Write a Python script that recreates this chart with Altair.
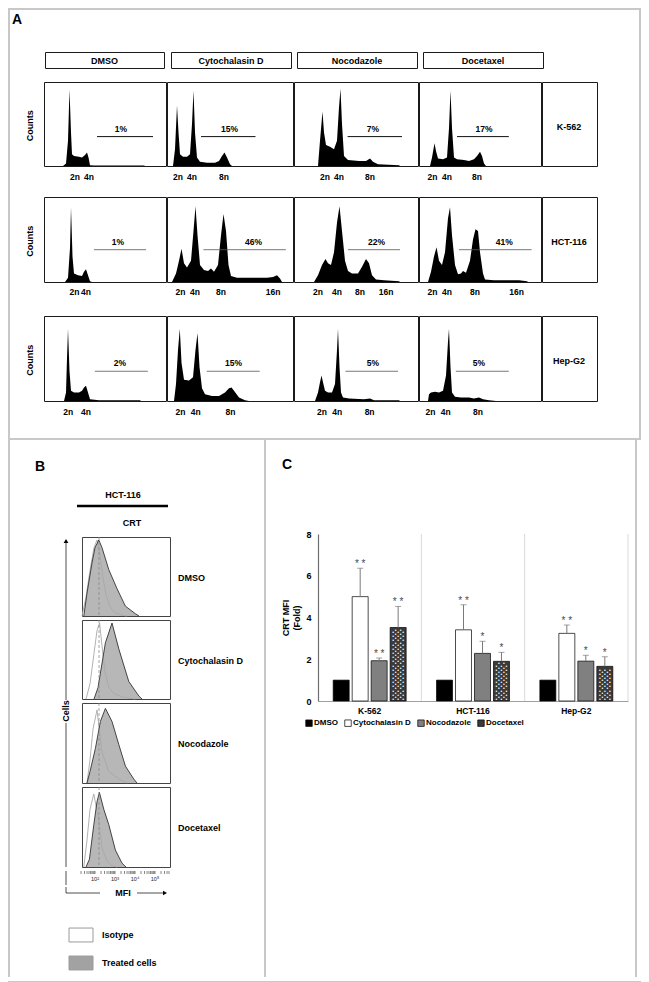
import altair as alt
import pandas as pd
import numpy as np

FONT = "Liberation Sans"
FRAME = "#c8c8c8"

CELL_LINES = ["K-562", "HCT-116", "Hep-G2"]
TREATMENTS = ["DMSO", "Cytochalasin D", "Nocodazole", "Docetaxel"]
PLOIDY = ["2n", "4n", "8n", "16n"]

# ---------------- Panel A: DNA content histograms ----------------
# channel (px from the left of each panel) and counts (% of panel height)
k562_dmso_x = [19, 22, 24, 25.5, 27, 28, 30, 35, 38, 41, 43, 44.5, 46, 50, 100, 101]
k562_dmso_y = [0, 3, 30, 91, 40, 14, 12, 11, 10, 13, 16, 10, 1, 0.5, 0.5, 0]
k562_cyto_x = [6, 8, 10, 11.5, 13, 16, 20, 23, 25, 26.5, 28, 30, 33, 40, 48, 52, 55, 57.5, 60, 63, 65]
k562_cyto_y = [0, 20, 72, 40, 14, 11, 11, 14, 50, 90, 40, 10, 5, 4, 4, 6, 12, 16, 10, 2, 0]
k562_noco_x = [24, 26, 28.5, 30, 32, 36, 40, 43, 45, 46.5, 48, 50, 54, 65, 72, 76, 79, 84, 105, 106]
k562_noco_y = [0, 30, 65, 40, 25, 23, 20, 30, 70, 92, 50, 12, 7, 6, 6, 9, 5, 2, 1, 0]
k562_doce_x = [11, 13, 15.5, 17, 19, 24, 28, 30, 31.5, 33, 35, 38, 45, 50, 55, 58, 61, 63, 65, 67]
k562_doce_y = [0, 10, 27, 18, 9, 8, 10, 45, 90, 45, 10, 8, 7, 6, 8, 12, 17, 12, 3, 0]

hct_dmso_x = [21, 24, 26, 27, 28.5, 30, 34, 38, 40, 42, 44, 46, 48]
hct_dmso_y = [0, 5, 40, 88, 30, 10, 8, 7, 12, 15, 8, 1, 0]
hct_cyto_x = [5, 9, 12, 14.5, 17, 20, 24, 26.5, 28.5, 30.5, 33, 37, 41, 44, 47, 51, 54, 56.5, 59, 61.5, 64, 70, 85, 100, 106, 110, 113, 115]
hct_cyto_y = [0, 10, 25, 39, 22, 17, 25, 60, 89, 55, 20, 14, 13, 16, 12, 20, 55, 80, 60, 20, 7, 5, 5, 5, 6, 8, 4, 0]
hct_noco_x = [20, 24, 28, 31.5, 34, 37, 40, 43, 45.5, 48, 51, 54, 58, 64, 68, 72, 75, 78, 82, 90, 105, 106]
hct_noco_y = [0, 8, 20, 27, 22, 20, 35, 70, 89, 60, 25, 13, 10, 10, 18, 27, 22, 8, 3, 2, 1, 0]
hct_doce_x = [9, 12, 15, 17.5, 20, 23, 26, 29, 31, 33, 36, 39, 42, 44, 47, 51, 54, 56.5, 59, 61, 64, 66, 75, 90, 100, 108, 109]
hct_doce_y = [0, 12, 30, 41, 25, 20, 35, 75, 88, 55, 20, 9, 10, 13, 11, 25, 50, 62, 60, 35, 10, 3, 2, 2, 2, 1, 0]

hep_dmso_x = [20, 22, 23, 24, 25.5, 27, 30, 35, 38, 40, 42, 44, 46, 55, 96, 97]
hep_dmso_y = [0, 10, 50, 85, 35, 12, 10, 10, 12, 16, 18, 10, 2, 1, 1, 0]
hep_cyto_x = [7, 9, 11, 12.8, 14.5, 17, 22, 26, 28.5, 30.5, 32.5, 35, 38, 45, 52, 58, 62, 64.5, 67, 72, 78, 82]
hep_cyto_y = [0, 20, 60, 85, 45, 25, 24, 28, 60, 80, 40, 15, 8, 6, 6, 10, 15, 16, 12, 4, 1, 0]
hep_noco_x = [21, 24, 26, 27.5, 29, 31, 34, 38, 41, 43, 44, 45.5, 47, 49, 55, 70, 76, 80, 105, 106]
hep_noco_y = [0, 10, 22, 30, 22, 12, 10, 10, 20, 60, 85, 40, 10, 4, 3, 2, 3, 1, 1, 0]
hep_doce_x = [9, 10, 12, 16, 20, 24, 27, 29, 30, 31.5, 33, 36, 42, 50, 55, 60, 64, 70, 77]
hep_doce_y = [0, 8, 10, 11, 10, 12, 30, 70, 85, 40, 10, 5, 4, 4, 3, 4, 2, 1, 0]

k562_ploidy = [[31, 45], [12, 26, 58], [33, 47, 78], [16.5, 31, 61]]
hct_ploidy = [[30.5, 42], [14.5, 29, 55, 107], [26, 45, 68, 94], [16.5, 31, 59, 100.5]]
hep_ploidy = [[24.3, 42], [14.5, 29.8, 64.5], [30, 45.3, 77.6], [14.5, 29.8, 62]]

k562_gate_from = [53, 34, 53.6, 38]
k562_gate_to = [109, 88.5, 108, 89.8]
k562_pct = ["1%", "15%", "7%", "17%"]
k562_pct_x = [77, 62.5, 79, 65]
hct_gate_from = [50, 36.4, 54, 40]
hct_gate_to = [102, 118.8, 106, 112.6]
hct_pct = ["1%", "46%", "22%", "41%"]
hct_pct_x = [74, 86.5, 82.6, 85.2]
hep_gate_from = [50.8, 39.7, 51.5, 36.8]
hep_gate_to = [103.8, 92.7, 104, 89.8]
hep_pct = ["2%", "15%", "5%", "5%"]
hep_pct_x = [76, 66.6, 79, 60]
gate_level = [35, 38, 35]

# ---------------- Panel B: CRT flow histograms (HCT-116) ----------------
B_LO, B_HI = 1.3, 5.7
B_DECADES = [2, 3, 4, 5]
B_DECADE_LABELS = ["10²", "10³", "10⁴", "10⁵"]
b_dmso_x = [1.39, 1.55, 1.8, 1.95, 2.14, 2.3, 2.64, 3.05, 3.47, 3.97, 4.15]
b_dmso_y = [0, 30, 70, 90, 100, 90, 61, 36, 13, 3, 0]
b_dmso_iso_x = [1.3, 1.5, 1.7, 1.9, 2.05, 2.2, 2.35, 2.5, 2.7, 2.95, 3.3, 3.55]
b_dmso_iso_y = [0, 25, 60, 90, 100, 80, 50, 28, 12, 4, 1, 0]
b_cyto_x = [1.9, 2.1, 2.47, 2.8, 3.14, 3.64, 4.14, 4.3]
b_cyto_y = [0, 15, 74, 100, 66, 23, 4, 0]
b_cyto_iso_x = [1.5, 1.7, 1.9, 2.05, 2.18, 2.3, 2.45, 2.65, 2.9, 3.3, 3.7, 3.95]
b_cyto_iso_y = [0, 20, 60, 90, 100, 70, 35, 15, 7, 3, 1, 0]
b_noco_x = [1.55, 1.7, 1.97, 2.22, 2.47, 2.8, 3.14, 3.47, 3.89, 4.05]
b_noco_y = [0, 15, 45, 80, 97, 80, 50, 22, 5, 0]
b_noco_iso_x = [1.55, 1.7, 1.85, 2.05, 2.3, 2.64, 3.14, 3.55]
b_noco_iso_y = [0, 30, 70, 95, 40, 15, 5, 0]
b_doce_x = [1.5, 1.67, 1.89, 2.05, 2.17, 2.39, 2.64, 2.97, 3.3, 3.5]
b_doce_y = [0, 10, 55, 85, 97, 75, 55, 22, 5, 0]
b_doce_iso_x = [1.39, 1.55, 1.7, 1.89, 2.14, 2.3, 2.55, 2.8, 3.05]
b_doce_iso_y = [0, 35, 75, 95, 60, 25, 8, 2, 0]
b_iso_marker = 2.15
B_LEGEND = ["Isotype", "Treated cells"]
B_LEGEND_FILL = ["#ffffff", "#a2a2a2"]

# ---------------- Panel C: CRT MFI fold ----------------
mfi_dmso = [1, 1, 1]
mfi_cyto = [5.0, 3.41, 3.24]
mfi_noco = [1.93, 2.28, 1.91]
mfi_doce = [3.52, 1.9, 1.66]
sd_cyto = [1.36, 1.2, 0.4]
sd_noco = [0.13, 0.58, 0.28]
sd_doce = [1.01, 0.43, 0.46]
sig_cyto = ["* *", "* *", "* *"]
sig_noco = ["* *", "*", "*"]
sig_doce = ["* *", "*", "*"]
C_TICKS = [0, 2, 4, 6, 8]
C_COLORS = ["#000000", "#ffffff", "#808080", "#3a3a3a"]


# ---------------- helpers ----------------
def base():
    return alt.Chart(pd.DataFrame({"v": [0]})).mark_point(opacity=0, size=1).encode(
        x=alt.value(1), y=alt.value(1))


def deco(w, h, layers=(), stroke=None, fill=None, sw=1):
    ch = alt.layer(base(), *layers) if layers else base()
    props = dict(width=w, height=h)
    vb = {}
    if stroke:
        vb["stroke"] = stroke
        vb["strokeWidth"] = sw
    if fill:
        vb["fill"] = fill
    if vb:
        props["view"] = alt.ViewBackground(**vb)
    return ch.properties(**props)


def txt(text, x, y, size=9, weight="bold", align="center", angle=0, color="black", baseline="middle"):
    return alt.Chart(pd.DataFrame({"t": [text]})).mark_text(
        font=FONT, fontSize=size, fontWeight=weight, align=align, baseline=baseline,
        angle=angle, color=color).encode(text="t:N", x=alt.value(x), y=alt.value(y))


def seg(x1, y1, x2, y2, color="black", width=1.0):
    enc = dict(x=alt.value(x1), y=alt.value(y1))
    if x1 != x2:
        enc["x2"] = alt.value(x2)
    if y1 != y2:
        enc["y2"] = alt.value(y2)
    return alt.Chart(pd.DataFrame({"v": [0]})).mark_rule(color=color, strokeWidth=width).encode(**enc)


def head(x, y, shape):
    return alt.Chart(pd.DataFrame({"v": [0]})).mark_point(
        shape=shape, filled=True, size=22, color="black", opacity=1).encode(x=alt.value(x), y=alt.value(y))


def hcat(*charts, spacing=0):
    return alt.hconcat(*charts, spacing=spacing)


def vcat(*charts, spacing=0):
    return alt.vconcat(*charts, spacing=spacing)


# ---------------- Panel A ----------------
COL_W = [122, 126, 124, 122]
ROW_H = [84, 85, 85]
LABEL_ROW_H = [29, 32, 35]
LABEL_ROW_Y = [10, 9, 10]


def histo(xs, ys, w, h, g_from, g_to, g_lvl, pct, pct_x, gcolor, gwidth):
    xsc = alt.Scale(domain=[0, w], nice=False, zero=False)
    ysc = alt.Scale(domain=[0, 100], nice=False)
    df = pd.DataFrame({"ch": xs, "cnt": ys})
    area = alt.Chart(df).mark_area(color="black", interpolate="linear").encode(
        x=alt.X("ch:Q", scale=xsc, axis=None), y=alt.Y("cnt:Q", scale=ysc, axis=None))
    gdf = pd.DataFrame({"a": [g_from], "b": [g_to], "lvl": [g_lvl], "pct": [pct], "px": [pct_x]})
    gate = alt.Chart(gdf).mark_rule(color=gcolor, strokeWidth=gwidth).encode(
        x=alt.X("a:Q", scale=xsc, axis=None), x2="b:Q", y=alt.Y("lvl:Q", scale=ysc, axis=None))
    ptxt = alt.Chart(gdf).mark_text(font=FONT, fontSize=8.5, fontWeight="bold", dy=-8).encode(
        x=alt.X("px:Q", scale=xsc, axis=None), y=alt.Y("lvl:Q", scale=ysc, axis=None), text="pct:N")
    return alt.layer(area, gate, ptxt).properties(
        width=w, height=h, view=alt.ViewBackground(stroke="#1a1a1a", strokeWidth=1))


def ploidy_unit(ppos, w, h, ty):
    xsc = alt.Scale(domain=[0, w], nice=False, zero=False)
    pdf = pd.DataFrame({"lab": PLOIDY[:len(ppos)], "pos": ppos})
    return alt.Chart(pdf).mark_text(font=FONT, fontSize=8.5, fontWeight="bold").encode(
        x=alt.X("pos:Q", scale=xsc, axis=None), y=alt.value(ty), text="lab:N").properties(width=w, height=h)


def a_row(i, xs, ys, ppos, gf, gt, pct, pctx, gcolor, gwidth):
    h = ROW_H[i]
    counts = deco(34, h, [txt("Counts", 20, h * 0.52, size=9, angle=270)])
    hs = [histo(xs[j], ys[j], COL_W[j], h, gf[j], gt[j], gate_level[i], pct[j], pctx[j], gcolor, gwidth)
          for j in range(4)]
    lab = deco(55, h, [txt(CELL_LINES[i], 27, h * 0.53, size=9)], stroke="#1a1a1a")
    hist_row = hcat(counts, *hs, lab, spacing=-1)
    lh = LABEL_ROW_H[i]
    labs = [ploidy_unit(ppos[j], COL_W[j], lh, LABEL_ROW_Y[i]) for j in range(4)]
    lab_row = hcat(deco(34, lh), *labs, spacing=0)
    return hist_row, lab_row


r1h, r1l = a_row(0, [k562_dmso_x, k562_cyto_x, k562_noco_x, k562_doce_x],
                 [k562_dmso_y, k562_cyto_y, k562_noco_y, k562_doce_y], k562_ploidy,
                 k562_gate_from, k562_gate_to, k562_pct, k562_pct_x, "#111", 1.0)
r2h, r2l = a_row(1, [hct_dmso_x, hct_cyto_x, hct_noco_x, hct_doce_x],
                 [hct_dmso_y, hct_cyto_y, hct_noco_y, hct_doce_y], hct_ploidy,
                 hct_gate_from, hct_gate_to, hct_pct, hct_pct_x, "#555", 0.8)
r3h, r3l = a_row(2, [hep_dmso_x, hep_cyto_x, hep_noco_x, hep_doce_x],
                 [hep_dmso_y, hep_cyto_y, hep_noco_y, hep_doce_y], hep_ploidy,
                 hep_gate_from, hep_gate_to, hep_pct, hep_pct_x, "#555", 0.8)

HEAD_W = [119, 120, 120, 120]
HEAD_GAP = [34, 5, 4, 4]
header_items = []
for k in range(4):
    header_items.append(deco(HEAD_GAP[k], 16))
    header_items.append(deco(HEAD_W[k], 16, [txt(TREATMENTS[k], HEAD_W[k] / 2, 8.5, size=9)], stroke="#1a1a1a"))
header = hcat(*header_items)

a_title = deco(629, 41, [txt("A", 2, 10, size=14, align="left")])
A_inner = vcat(a_title, header, deco(1, 12), r1h, r1l, r2h, r2l, r3h, r3l)

# ---------------- Panel B ----------------
B_TICKS = sorted({round(float(np.log10(k * 10 ** d)), 4) for d in range(1, 6) for k in range(1, 10)
                  if B_LO <= np.log10(k * 10 ** d) <= B_HI})
BX = alt.Scale(domain=[B_LO, B_HI], nice=False, zero=False)


def bbox(tx, ty, ix, iy, h):
    ysc = alt.Scale(domain=[0, 104], nice=False)
    tdf = pd.DataFrame({"x": tx, "y": ty})
    idf = pd.DataFrame({"x": ix, "y": iy})
    X = alt.X("x:Q", scale=BX, axis=None)
    Y = alt.Y("y:Q", scale=ysc, axis=None)
    area = alt.Chart(tdf).mark_area(color="#b7b7b7").encode(x=X, y=Y)
    outline = alt.Chart(tdf).mark_line(color="#1e1e1e", strokeWidth=0.8).encode(x=X, y=Y)
    iso = alt.Chart(idf).mark_line(color="#a8a8a8", strokeWidth=0.9).encode(x=X, y=Y)
    mark = alt.Chart(pd.DataFrame({"x": [b_iso_marker]})).mark_rule(
        color="#8c8c8c", strokeWidth=0.8, strokeDash=[3, 2]).encode(x=X)
    return alt.layer(area, iso, outline, mark).properties(
        width=88, height=h, view=alt.ViewBackground(stroke="#444", strokeWidth=1))


B_ROW_H = [79, 79, 80, 80]
b_curves = [(b_dmso_x, b_dmso_y, b_dmso_iso_x, b_dmso_iso_y),
            (b_cyto_x, b_cyto_y, b_cyto_iso_x, b_cyto_iso_y),
            (b_noco_x, b_noco_y, b_noco_iso_x, b_noco_iso_y),
            (b_doce_x, b_doce_y, b_doce_iso_x, b_doce_iso_y)]
b_rows = []
for k in range(4):
    h = B_ROW_H[k]
    tx, ty, ix, iy = b_curves[k]
    r = hcat(bbox(tx, ty, ix, iy, h), deco(93, h, [txt(TREATMENTS[k], 7, h / 2 + 1, align="left")]))
    b_rows.append(r)
b_boxes = vcat(*b_rows)

b_top = deco(254, 96, [txt("B", 25, 27, size=14, align="left"),
                       txt("HCT-116", 113, 55, size=9),
                       seg(67, 66, 158, 66, "black", 2.5),
                       txt("CRT", 122, 83, size=9)])
b_axis = deco(69, 330, [seg(56, 3, 56, 163, "#222", 0.8), seg(56, 186, 56, 330, "#222", 0.8),
                        head(56, 4, "triangle-up"), txt("Cells", 56, 174, size=9, angle=270)])
b_mid = hcat(b_axis, b_boxes)

tick_df = pd.DataFrame({"t": B_TICKS})
dec_df = pd.DataFrame({"d": B_DECADES, "lab": B_DECADE_LABELS})
b_ticks = alt.layer(
    alt.Chart(tick_df).mark_rule(color="#333", strokeWidth=0.6).encode(
        x=alt.X("t:Q", scale=BX, axis=None), y=alt.value(0), y2=alt.value(3)),
    alt.Chart(dec_df).mark_text(font=FONT, fontSize=5.5, color="#222", baseline="middle").encode(
        x=alt.X("d:Q", scale=BX, axis=None), y=alt.value(8), text="lab:N"),
).properties(width=88, height=14)
b_tick_row = hcat(deco(70, 14, [seg(56, 0, 56, 14, "#222", 0.8)]), b_ticks, deco(94, 14))

LEG_Y = alt.Scale(type="point", domain=B_LEGEND, range=[48, 76], padding=0)
leg_sw = [alt.Chart(pd.DataFrame({"k": [B_LEGEND[j]]})).mark_point(
    shape="M-1,-0.58H1V0.58H-1Z", filled=True, size=576, stroke="#9a9a9a", strokeWidth=1, opacity=1,
    fill=B_LEGEND_FILL[j]).encode(x=alt.value(71), y=alt.Y("k:N", scale=LEG_Y, axis=None))
    for j in range(2)]
leg_b_txt = alt.Chart(pd.DataFrame({"k": B_LEGEND})).mark_text(
    font=FONT, fontSize=9, fontWeight="bold", align="left", baseline="middle").encode(
    x=alt.value(92), y=alt.Y("k:N", scale=LEG_Y, axis=None), text="k:N")
b_rest = alt.layer(base(), seg(56, 0, 56, 6, "#222", 0.8), seg(56, 6, 90, 6, "#222", 0.8),
                   txt("MFI", 113, 6, size=9), seg(127, 6, 153, 6, "#222", 0.8),
                   head(155, 6, "triangle-right"), *leg_sw, leg_b_txt).properties(width=254, height=94)
B_inner = vcat(b_top, b_mid, b_tick_row, b_rest)

# ---------------- Panel C ----------------
rows = []
for i, ln in enumerate(CELL_LINES):
    vals = [mfi_dmso[i], mfi_cyto[i], mfi_noco[i], mfi_doce[i]]
    sds = [0, sd_cyto[i], sd_noco[i], sd_doce[i]]
    sigs = ["", sig_cyto[i], sig_noco[i], sig_doce[i]]
    for t, v, s, g in zip(TREATMENTS, vals, sds, sigs):
        rows.append({"line": ln, "treat": t, "mfi": v, "sd": s, "sig": g})
cdf = pd.DataFrame(rows)

x_axis = alt.Axis(title=None, ticks=False, labelAngle=0, labelFontSize=8.5, labelFontWeight="bold",
                  labelPadding=5, domainColor="#a0a0a0", grid=False, labelFont=FONT, labelColor="black")
XSC = alt.Scale(paddingInner=0, paddingOuter=0)
CX = alt.X("line:N", sort=CELL_LINES, scale=XSC, axis=x_axis)
CXO = alt.XOffset("treat:N", sort=TREATMENTS, scale=alt.Scale(paddingInner=0.158, paddingOuter=0.8))
y_axis = alt.Axis(values=C_TICKS, grid=False, ticks=False, domainColor="#6e6e6e", domainWidth=1.2,
                  labelFontWeight="bold", labelFontSize=9, labelPadding=7, labelFont=FONT, labelColor="black",
                  title=["CRT MFI", "(Fold)"], titleFontSize=9, titleFontWeight="bold", titlePadding=4,
                  titleFont=FONT, titleColor="black")
YSC = alt.Scale(domain=[0, 8], nice=False)
CY = alt.Y("mfi:Q", scale=YSC, axis=y_axis)

grid = alt.Chart(pd.DataFrame({"line": CELL_LINES})).mark_rule(color="#dadada", strokeWidth=1).encode(
    x=alt.X("line:N", sort=CELL_LINES, bandPosition=1, scale=XSC, axis=x_axis),
    y=alt.value(0), y2=alt.value(167))
bars = alt.Chart(cdf).mark_bar(stroke="#000", strokeWidth=0.7).encode(
    x=CX, xOffset=CXO, y=CY,
    fill=alt.Fill("treat:N", sort=TREATMENTS,
                  scale=alt.Scale(domain=TREATMENTS, range=C_COLORS),
                  legend=alt.Legend(title=None, orient="none", legendX=-13, legendY=185,
                                    direction="horizontal", columns=4, symbolType="square",
                                    symbolSize=42, symbolStrokeColor="#000", symbolStrokeWidth=0.7,
                                    labelFontSize=8, labelFontWeight="bold", labelFont=FONT,
                                    labelOffset=1, columnPadding=5, padding=0)))


# white dot texture of the Docetaxel bars (rows follow each bar's own height)
def texture(start, offsets):
    layers = []
    for dx in offsets:
        layers.append(
            alt.Chart(cdf).transform_filter(alt.datum.treat == "Docetaxel").transform_calculate(
                pts=f"sequence({start}, datum.mfi - 0.06, 0.2)").transform_flatten(["pts"]).mark_text(
                text="•", font=FONT, fontSize=5, color="white", baseline="middle", dx=dx).encode(
                x=CX, xOffset=CXO, y=alt.Y("pts:Q", scale=YSC, axis=y_axis)))
    return layers


tex = texture(0.1, [-5, 0, 5]) + texture(0.2, [-2.5, 2.5])

err = alt.Chart(cdf).transform_filter("datum.sd > 0").transform_calculate(
    top="datum.mfi + datum.sd").mark_rule(color="#7a7a7a", strokeWidth=1).encode(
    x=CX, xOffset=CXO, y=CY, y2="top:Q")
cap = alt.Chart(cdf).transform_filter("datum.sd > 0").transform_calculate(
    top="datum.mfi + datum.sd").mark_tick(color="#7a7a7a", size=6, thickness=1, orient="horizontal").encode(
    x=CX, xOffset=CXO, y=alt.Y("top:Q", scale=YSC, axis=y_axis))
stars = alt.Chart(cdf).transform_filter("datum.sd > 0").transform_calculate(
    top="datum.mfi + datum.sd").mark_text(font=FONT, fontSize=10, color="#4a4a4a", baseline="alphabetic",
                                          dy=-1).encode(
    x=CX, xOffset=CXO, y=alt.Y("top:Q", scale=YSC, axis=y_axis), text="sig:N")
bar_chart = alt.layer(grid, bars, *tex, err, cap, stars).properties(width=310, height=167)

c_mid = vcat(deco(310, 90, [txt("C", -36, 25, size=14, align="left")]), bar_chart, deco(310, 240)).resolve_scale(
    fill="independent").resolve_legend(fill="independent")
C_inner = hcat(deco(15, 537), c_mid, deco(6, 537)).resolve_scale(
    fill="independent").resolve_legend(fill="independent")

# ---------------- Assemble ----------------
top_block = hcat(deco(2, 428, fill=FRAME), A_inner, deco(2, 428, fill=FRAME))
bc_block = hcat(deco(2, 537, fill=FRAME), B_inner, deco(2, 537, fill=FRAME), C_inner,
                deco(2, 537, fill=FRAME)).resolve_scale(fill="independent").resolve_legend(fill="independent")
chart = alt.vconcat(deco(633, 2, fill=FRAME), top_block, deco(633, 2, fill=FRAME), bc_block,
                    deco(633, 2, fill=FRAME), spacing=0, padding=0).resolve_scale(
    fill="independent").resolve_legend(fill="independent").configure(font=FONT).configure_view(stroke=None)

chart.save("out.html", embed_options={"renderer": "svg", "actions": False})
